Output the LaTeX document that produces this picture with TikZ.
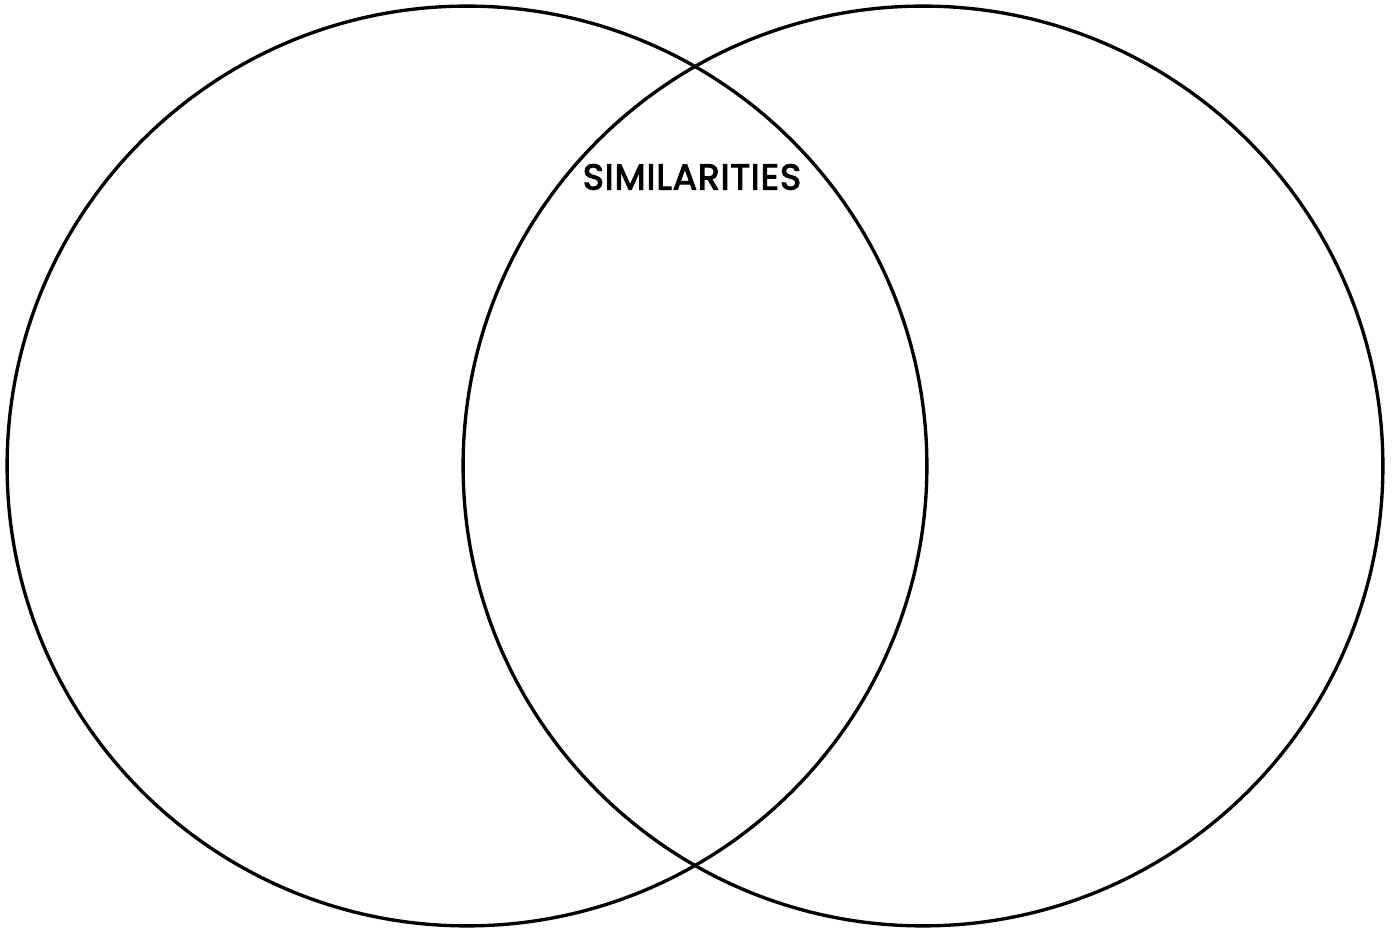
\documentclass[tikz,border=0pt]{standalone}
\usepackage{fontspec}
\setmainfont{Poppins}
\newfontfamily\simfont{Poppins}[FakeBold=3, LetterSpace=2.5]
\usepackage{tikz}
\usetikzlibrary{positioning}

\begin{document}
\begin{tikzpicture}[
  x=0.02cm, y=-0.02cm,
  set/.style={draw, circle, line width=1.9pt, minimum size=18.4cm, inner sep=0pt},
  lbl/.style={font=\simfont\fontsize{20.5}{24}\selectfont, inner sep=0pt}
]
\useasboundingbox (0,0) rectangle (1394,928);
\node[set] (left) at (467,466) {};
\node[set] (right) at (923,466) {};
\node[lbl] (sim) at (692,177) {SIMILARITIES};
\end{tikzpicture}
\end{document}
